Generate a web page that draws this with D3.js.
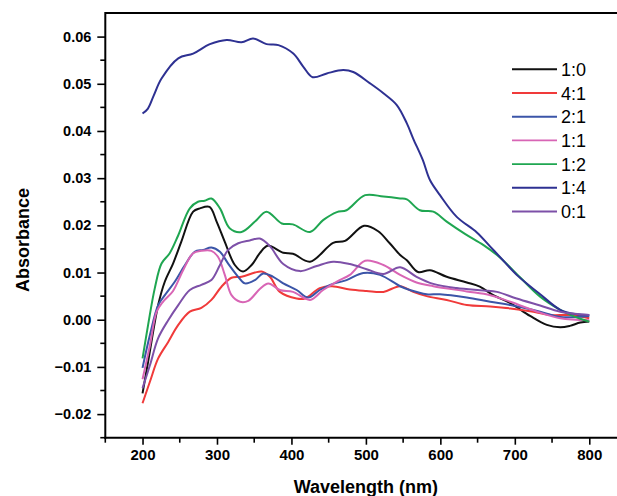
<!DOCTYPE html>
<html>
<head>
<meta charset="utf-8">
<script src="https://cdn.jsdelivr.net/npm/d3@7/dist/d3.min.js"></script>
<style>
  html, body { margin: 0; padding: 0; background: #fff; }
  svg { display: block; }
  text { font-family: "Liberation Sans", Arial, Helvetica, sans-serif; }
</style>
</head>
<body>
<svg id="chart" width="617" height="496"></svg>
<script>
// ---- Data (wavelength nm, absorbance) ----
const seriesNames = ["1:0", "4:1", "2:1", "1:1", "1:2", "1:4", "0:1"];
const seriesColors = ["#111111", "#f03a3a", "#3b55a8", "#d865b5", "#1fa651", "#2e3192", "#7d50a8"];

const s_1_0 = [[200,-0.0156],[207.5,-0.0089],[221,0.0031],[230,0.0081],[241,0.0119],[252,0.0165],[268,0.0229],[277,0.0236],[290,0.0239],[299.5,0.0208],[310.5,0.0165],[324,0.0116],[335,0.0102],[346.5,0.0116],[357.5,0.0141],[368,0.0157],[389,0.0142],[402,0.0140],[425,0.0123],[456,0.0163],[472,0.0167],[497.5,0.0199],[516,0.0188],[532,0.0162],[546,0.0137],[555,0.0126],[570,0.0101],[586,0.0105],[608.5,0.0091],[635.5,0.0079],[653,0.0070],[671,0.0052],[694,0.0035],[720.5,0.0008],[743,-0.0011],[761,-0.0016],[774,-0.0013],[788,-0.0006],[800,-0.0004]];
const s_4_1 = [[200,-0.0177],[210,-0.0131],[221,-0.0082],[234.5,-0.0047],[248,-0.0011],[263.5,0.0017],[279,0.0025],[292.5,0.0042],[306,0.0070],[319.5,0.0089],[333,0.0091],[351,0.0100],[360,0.0102],[371,0.0091],[384.5,0.0059],[407,0.0045],[418,0.0045],[438,0.0067],[454.5,0.0071],[478.5,0.0064],[501,0.0061],[523.5,0.0059],[546,0.0071],[563.5,0.0059],[581.5,0.0050],[608.5,0.0042],[635.5,0.0031],[667,0.0028],[694,0.0024],[720.5,0.0018],[747.5,0.0010],[774,0.0010],[800,0.0003]];
const s_2_1 = [[200,-0.0102],[210,-0.0032],[221,0.0031],[230,0.0052],[243.5,0.0081],[257,0.0116],[270,0.0144],[281.5,0.0148],[292.5,0.0153],[304,0.0144],[315,0.0119],[328.5,0.0091],[337.5,0.0077],[351,0.0084],[362,0.0098],[375.5,0.0091],[389,0.0077],[407,0.0063],[422.5,0.0047],[438,0.0063],[452,0.0074],[474,0.0084],[496.5,0.0099],[519,0.0095],[546,0.0071],[559,0.0063],[581.5,0.0054],[599.5,0.0054],[635.5,0.0047],[667,0.0038],[694,0.0031],[734,0.0017],[761,0.0006],[800,0.0008]];
const s_1_1 = [[200,-0.0126],[210,-0.0054],[219,0.0017],[227.5,0.0038],[241,0.0061],[254.5,0.0105],[268,0.0141],[279,0.0146],[292.5,0.0146],[301.5,0.0133],[310.5,0.0095],[319.5,0.0052],[331,0.0038],[342,0.0040],[357.5,0.0065],[369,0.0077],[384.5,0.0063],[402,0.0059],[425,0.0042],[442.5,0.0063],[461,0.0081],[478.5,0.0095],[499,0.0125],[523.5,0.0116],[546,0.0095],[568,0.0079],[590.5,0.0071],[635.5,0.0060],[667,0.0052],[694,0.0038],[734,0.0015],[761,0.0003],[800,-0.0001]];
const s_1_2 = [[200,-0.0082],[207.5,-0.0011],[216.5,0.0067],[225.5,0.0119],[236.5,0.0141],[248,0.0179],[263.5,0.0236],[274.5,0.0250],[283.5,0.0252],[292.5,0.0257],[304,0.0236],[317,0.0194],[333,0.0186],[351,0.0208],[366.5,0.0229],[387,0.0204],[402,0.0202],[425,0.0186],[442.5,0.0211],[461,0.0228],[474,0.0232],[499,0.0264],[523.5,0.0261],[546,0.0257],[555,0.0255],[572.5,0.0232],[590.5,0.0229],[608.5,0.0208],[633,0.0182],[658,0.0158],[680,0.0132],[707,0.0090],[734,0.0049],[761,0.0021],[781,0.0006],[800,-0.0004]];
const s_1_4 = [[200,0.0437],[207,0.0447],[215,0.0475],[225.5,0.0511],[248,0.0554],[268,0.0564],[290.5,0.0584],[313,0.0593],[333,0.0588],[348.5,0.0596],[366.5,0.0584],[382.5,0.0582],[402.5,0.0564],[416,0.0536],[428.5,0.0514],[447.5,0.0522],[469.5,0.0529],[483,0.0525],[505.5,0.0501],[523.5,0.0480],[541.5,0.0455],[555,0.0416],[563.5,0.0384],[576.5,0.0338],[586,0.0296],[599.5,0.0264],[622,0.0218],[649,0.0185],[667,0.0155],[680,0.0133],[702.5,0.0095],[720.5,0.0071],[734,0.0054],[761,0.0021],[781,0.0012],[800,0.0010]];
const s_0_1 = [[200,-0.0145],[210,-0.0096],[221,-0.0039],[234.5,-0.0001],[248,0.0031],[263.5,0.0063],[279,0.0074],[292.5,0.0084],[304,0.0116],[315,0.0148],[328.5,0.0162],[344,0.0168],[357.5,0.0172],[371,0.0156],[389,0.0118],[411.5,0.0103],[434,0.0114],[456,0.0123],[478.5,0.0118],[501,0.0107],[523.5,0.0097],[546,0.0111],[568,0.0091],[590.5,0.0076],[622,0.0067],[658,0.0062],[676,0.0059],[702.5,0.0045],[734,0.0030],[761,0.0017],[800,0.0010]];

const seriesData = [s_1_0, s_4_1, s_2_1, s_1_1, s_1_2, s_1_4, s_0_1];

const xMajorTicks = [200, 300, 400, 500, 600, 700, 800];
const xMinorTicks = [150, 250, 350, 450, 550, 650, 750];
const yMajorTicks = [-0.02, -0.01, 0.00, 0.01, 0.02, 0.03, 0.04, 0.05, 0.06];
const yMinorTicks = [-0.025, -0.015, -0.005, 0.005, 0.015, 0.025, 0.035, 0.045, 0.055];

// ---- Layout ----
const svg = d3.select("#chart");
const pLeft = 105.3, pRight = 626.5, pTop = 13, pBottom = 437.7;

const x = d3.scaleLinear().domain([150, 850]).range([pLeft, pRight]);
const y = d3.scaleLinear().domain([-0.025, 0.065]).range([pBottom, pTop]);

// frame: top line
svg.append("line").attr("x1", pLeft).attr("x2", pRight).attr("y1", pTop).attr("y2", pTop)
  .attr("stroke", "#000").attr("stroke-width", 2);

// x axis
const xAxis = svg.append("g").attr("transform", `translate(0,${pBottom})`);
xAxis.call(d3.axisBottom(x).tickValues(xMajorTicks).tickSize(7).tickSizeOuter(0).tickPadding(5).tickFormat(d3.format("d")));
xAxis.append("g").selectAll("line").data(xMinorTicks).join("line")
  .attr("x1", d => x(d)).attr("x2", d => x(d)).attr("y1", 0).attr("y2", 5)
  .attr("stroke", "#000").attr("stroke-width", 1.6);

// y axis
const yAxis = svg.append("g").attr("transform", `translate(${pLeft},0)`);
yAxis.call(d3.axisLeft(y).tickValues(yMajorTicks).tickSize(8).tickSizeOuter(0).tickPadding(6).tickFormat(d3.format(".2f")));
yAxis.append("g").selectAll("line").data(yMinorTicks).join("line")
  .attr("x1", 0).attr("x2", -5).attr("y1", d => y(d)).attr("y2", d => y(d))
  .attr("stroke", "#000").attr("stroke-width", 1.6);

[xAxis, yAxis].forEach(g => {
  g.select(".domain").attr("stroke", "#000").attr("stroke-width", 2);
  g.selectAll(".tick line").attr("stroke", "#000").attr("stroke-width", 1.6);
  g.selectAll(".tick text").attr("fill", "#000")
    .style("font-family", '"Liberation Sans", Arial, sans-serif')
    .style("font-weight", "bold");
});
xAxis.selectAll(".tick text").style("font-size", "15px");
yAxis.selectAll(".tick text").style("font-size", "14.5px");
// extend domains to corner
xAxis.select(".domain").attr("d", `M${pLeft - 1},0H${pRight}`);
yAxis.select(".domain").attr("d", `M0,${pBottom + 1}V${pTop - 1}`);

// axis titles
svg.append("text").attr("x", x(500)).attr("y", 493).attr("text-anchor", "middle")
  .style("font-size", "18px").style("font-weight", "bold").text("Wavelength (nm)");
svg.append("text").attr("transform", "translate(29,240) rotate(-90)").attr("text-anchor", "middle")
  .style("font-size", "18px").style("font-weight", "bold").text("Absorbance");

// lines
const line = d3.line().x(d => x(d[0])).y(d => y(d[1])).curve(d3.curveCatmullRom.alpha(0.5));
svg.append("g").selectAll("path").data(seriesData).join("path")
  .attr("d", d => line(d))
  .attr("fill", "none")
  .attr("stroke", (d, i) => seriesColors[i])
  .attr("stroke-width", 2)
  .attr("stroke-linejoin", "round");

// legend
const lg = svg.append("g");
const rows = lg.selectAll("g").data(seriesNames).join("g")
  .attr("transform", (d, i) => `translate(0,${69.3 + i * 23.7})`);
rows.append("line").attr("x1", 512).attr("x2", 557).attr("y1", 0).attr("y2", 0)
  .attr("stroke", (d, i) => seriesColors[i]).attr("stroke-width", 1.9);
rows.append("text").attr("x", 561).attr("y", 6.5)
  .style("font-size", "18px").attr("fill", "#000").text(d => d);
</script>
</body>
</html>
